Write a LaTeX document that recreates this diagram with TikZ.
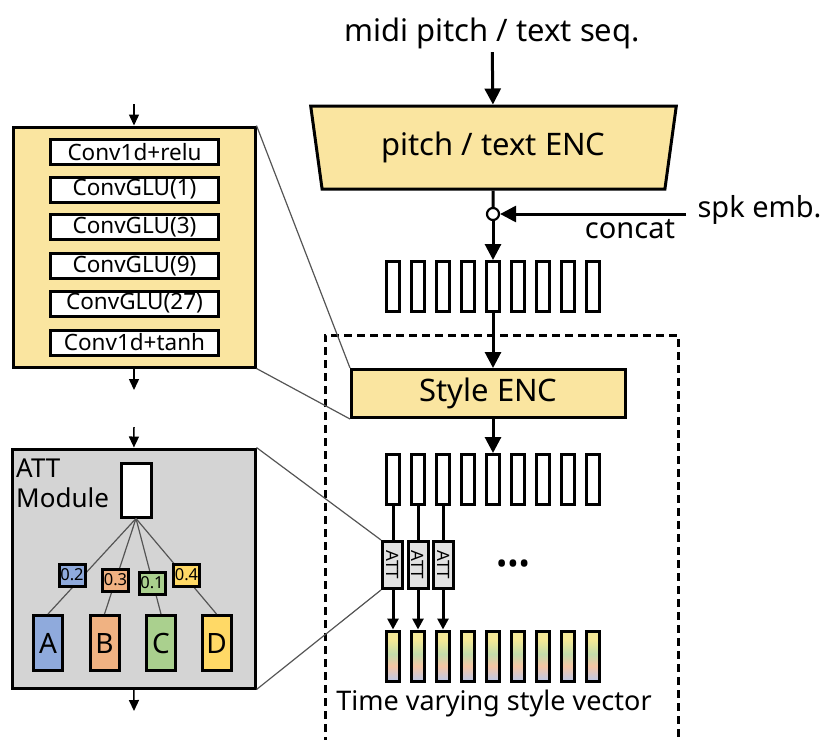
\documentclass[tikz,border=0pt]{standalone}
\usepackage{fontspec}
\setmainfont{Noto Sans}
\usetikzlibrary{arrows.meta,shapes.geometric}

\definecolor{encyellow}{RGB}{250,229,160}
\definecolor{panelgray}{RGB}{212,212,212}
\definecolor{attgray}{RGB}{226,226,226}
\definecolor{keyA}{RGB}{143,170,220}
\definecolor{keyB}{RGB}{240,178,130}
\definecolor{keyC}{RGB}{170,208,142}
\definecolor{keyD}{RGB}{255,217,102}
\definecolor{vecyellow}{RGB}{244,232,150}
\definecolor{vecgreen}{RGB}{196,220,170}
\definecolor{vecpeach}{RGB}{245,198,165}
\definecolor{veclav}{RGB}{196,200,224}
\definecolor{zoomgray}{RGB}{85,85,85}

\pgfdeclareverticalshading{stylegrad}{100bp}{color(0bp)=(veclav); color(27bp)=(veclav);
  color(40bp)=(vecpeach); color(52bp)=(vecgreen); color(66bp)=(vecyellow); color(100bp)=(vecyellow)}

\begin{document}
\begin{tikzpicture}[
  x=1pt, y=-1pt,
  enc/.style={draw, line width=3pt, fill=encyellow, font=\fontsize{31}{36}\selectfont},
  vec/.style={draw, line width=3pt, minimum width=13pt, minimum height=50pt, inner sep=0pt},
  attbox/.style={draw, line width=3pt, fill=attgray, minimum width=20pt, minimum height=47pt,
    inner sep=0pt, font=\fontsize{17}{17}\selectfont},
  convbox/.style={draw, line width=3pt, fill=white, minimum width=168pt, minimum height=25pt,
    inner sep=0pt, font=\fontsize{22.5}{22.5}\selectfont},
  panel/.style={draw, line width=3pt},
  keybox/.style={draw, line width=3pt, minimum width=29pt, minimum height=55pt, inner sep=0pt,
    font=\fontsize{28}{28}\selectfont},
  wbox/.style={draw, line width=3pt, minimum width=26pt, minimum height=22pt, inner sep=1pt,
    font=\fontsize{16.5}{16.5}\selectfont},
  arr/.style={-{Triangle[length=16pt,width=16pt]}, line width=3pt},
  sarr/.style={-{Triangle[length=11pt,width=10pt]}, line width=1.5pt},
  zoomline/.style={zoomgray, line width=1.2pt},
  label/.style={font=\fontsize{29}{34}\selectfont}
]
\useasboundingbox (0,0) rectangle (824,739);

% main encoder path
\node[label, font=\fontsize{31}{36}\selectfont] (title) at (492,33) {midi pitch / text seq.};
\node[enc, trapezium, shape border rotate=180, trapezium stretches=true, trapezium angle=76.5,
  minimum width=366pt, minimum height=83pt, inner sep=0pt] (penc) at (493.5,147.5) {pitch / text ENC};
\draw[arr] (title) -- (penc);

\node[circle, draw, line width=2.2pt, fill=white, minimum size=12pt, inner sep=0pt] (cat) at (493,214) {};
\coordinate (spk) at (686,214);
\node[label, anchor=west] (spklab) at (694,210) {spk emb.};
\node[label] (catlab) at (630,229) {concat};
\draw[line width=3pt] (penc) -- (cat);
\draw[arr] (spk) -- (cat);

\foreach \i in {1,...,9}
  \node[vec] (in\i) at ({368+25*\i},286.5) {};
\draw[arr] (cat) -- (in5);

% style encoder block
\draw[line width=3pt, dash pattern=on 8pt off 5pt] (325,745) |- (678,335) -- (678,745);
\node[enc, minimum width=274pt, minimum height=48pt, inner sep=0pt] (senc) at (488.5,393.5) {Style ENC};
\draw[arr] (in5.south) -- (in5.south |- senc.north);

\foreach \i in {1,...,9}
  \node[vec] (hid\i) at ({368+25*\i},479.5) {};
\draw[arr] (hid5.north |- senc.south) -- (hid5);

\foreach \i in {1,2,3}
  \node[attbox] (att\i) at ({367+25.5*\i},565) {\rotatebox{-90}{ATT}};
\node[font=\fontsize{30}{30}\selectfont] (dots) at (513,567) {•••};

\foreach \i in {1,...,9}
  \node[vec, shading=stylegrad] (sty\i) at ({368+25*\i},656) {};
\foreach \i in {1,2,3} {
  \draw[line width=3pt] (hid\i.south) -- (hid\i.south |- att\i.north);
  \draw[-{Triangle[length=11pt,width=11pt]}, line width=3pt] (hid\i.south |- att\i.south) -- (sty\i.north);
}
\node[label, font=\fontsize{27}{32}\selectfont] (stylab) at (494,703) {Time varying style vector};

% conv stack detail
\node[panel, fill=encyellow, minimum width=242pt, minimum height=240pt] (convpanel) at (134,247) {};
\foreach \j/\y/\t in {1/152/Conv1d+relu, 2/189.5/ConvGLU(1), 3/227/ConvGLU(3),
    4/266/ConvGLU(9), 5/303.5/ConvGLU(27), 6/342.5/Conv1d+tanh}
  \node[convbox] (conv\j) at (134.5,\y) {\t};
\coordinate (convin) at (134,104);
\coordinate (convout) at (134,390);
\draw[sarr] (convin) -- (convpanel);
\draw[sarr] (convpanel) -- (convout);
\draw[zoomline] (convpanel.north east) -- (senc.north west);
\draw[zoomline] (convpanel.south east) -- (senc.south west);

% attention module detail
\node[panel, fill=panelgray, minimum width=243pt, minimum height=239pt] (attpanel) at (133.5,568.5) {};
\coordinate (attin) at (134,427);
\coordinate (attout) at (134,711);
\draw[sarr] (attin) -- (attpanel);
\draw[sarr] (attpanel) -- (attout);
\node[anchor=north west, align=left, inner sep=0pt, font=\fontsize{26}{30}\selectfont] (attlab) at (16,459) {ATT\\Module};
\node[draw, line width=3pt, fill=white, minimum width=30pt, minimum height=54pt, inner sep=0pt] (query) at (136,490) {};
\node[keybox, fill=keyA] (kA) at (48,643) {A};
\node[keybox, fill=keyB] (kB) at (104.5,643) {B};
\node[keybox, fill=keyC] (kC) at (161,643) {C};
\node[keybox, fill=keyD] (kD) at (216.5,643) {D};
\foreach \k in {A,B,C,D}
  \draw[zoomline] (query.south) -- (k\k.north);
\node[wbox, fill=keyA] (wA) at (72,575) {0.2};
\node[wbox, fill=keyB] (wB) at (115.5,580) {0.3};
\node[wbox, fill=keyC] (wC) at (152,583) {0.1};
\node[wbox, fill=keyD] (wD) at (186.5,575) {0.4};
\draw[zoomline] (attpanel.north east) -- (att1.north west);
\draw[zoomline] (attpanel.south east) -- (att1.south west);
\end{tikzpicture}
\end{document}
